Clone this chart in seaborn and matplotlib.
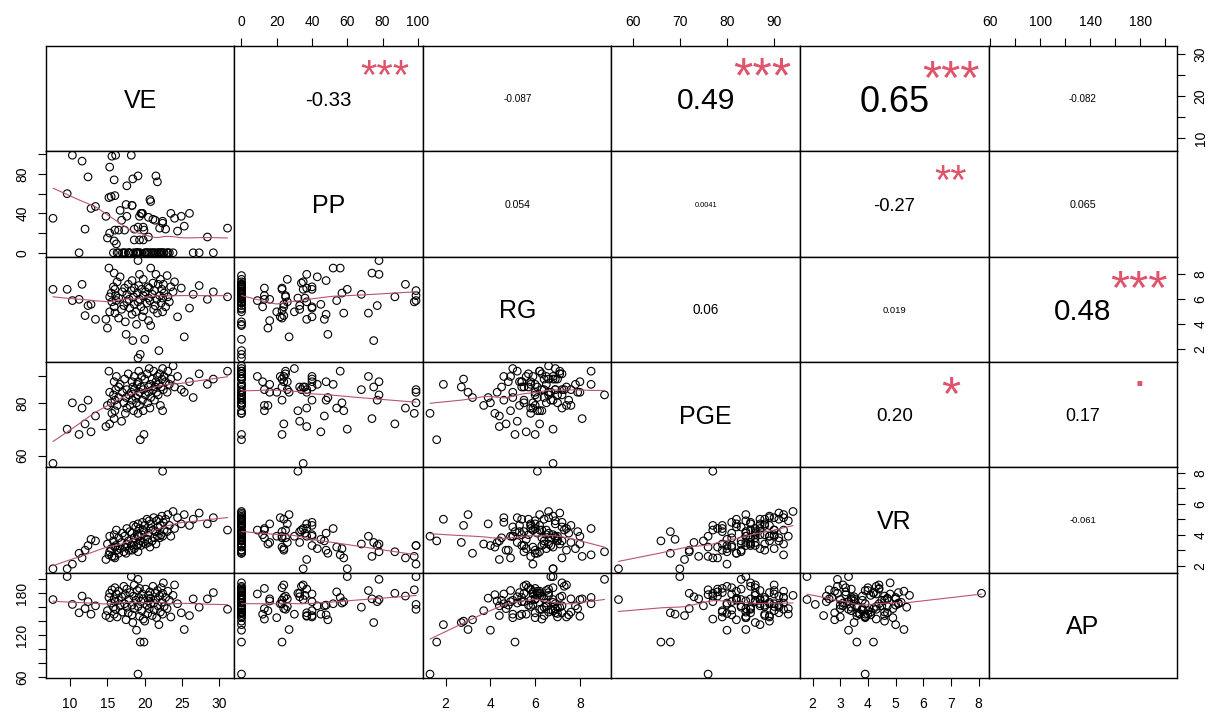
import numpy as np
import pandas as pd
import seaborn as sns
import matplotlib.pyplot as plt

ve = [7.7, 9.6, 10.3, 11.2, 11.6, 12.0, 12.4, 12.8, 13.4, 14.8,
      15.0, 15.2, 15.3, 15.3, 15.5, 15.6, 15.8, 15.9, 15.9, 16.0,
      16.0, 16.1, 16.2, 16.3, 16.5, 16.5, 16.7, 16.9, 17.0, 17.2,
      17.3, 17.4, 17.5, 17.6, 17.6, 17.8, 17.9, 18.0, 18.2, 18.3,
      18.3, 18.4, 18.5, 18.6, 18.6, 18.8, 18.9, 19.0, 19.1, 19.1,
      19.1, 19.2, 19.3, 19.3, 19.4, 19.5, 19.6, 19.7, 19.8, 19.8,
      19.9, 20.0, 20.1, 20.3, 20.4, 20.5, 20.5, 20.6, 20.7, 20.8,
      20.8, 21.0, 21.1, 21.2, 21.3, 21.4, 21.5, 21.6, 21.7, 21.8,
      21.9, 22.0, 22.1, 22.2, 22.3, 22.4, 22.4, 22.5, 22.6, 22.8,
      23.0, 23.1, 23.3, 23.5, 23.8, 24.0, 24.4, 24.9, 25.3, 26.0,
      26.5, 27.3, 28.4, 29.2, 31.1]
pp = [35, 60, 99, 0, 93, 24, 77, 45, 47, 37,
      15, 56, 87, 20, 57, 98, 0, 74, 12, 23,
      58, 99, 9, 0, 23, 0, 43, 33, 0, 0,
      23, 0, 49, 68, 37, 0, 0, 0, 99, 48,
      48, 75, 0, 24, 13, 0, 0, 0, 78, 0,
      26, 0, 37, 13, 0, 40, 40, 40, 26, 13,
      23, 0, 0, 0, 0, 36, 16, 0, 54, 52,
      0, 0, 34, 0, 0, 33, 78, 0, 72, 0,
      0, 25, 0, 0, 0, 32, 30, 0, 0, 24,
      0, 0, 0, 40, 0, 35, 22, 37, 27, 40,
      0, 0, 16, 0, 25]
rg = [6.8, 6.8, 5.9, 6.0, 7.2, 4.7, 5.5, 5.6, 4.4, 4.4,
      3.7, 8.5, 6.2, 5.0, 6.5, 5.8, 7.0, 8.1, 5.4, 6.8,
      4.9, 6.3, 5.9, 7.4, 4.5, 6.1, 7.8, 5.2, 6.6, 5.5,
      6.9, 4.2, 3.2, 6.4, 5.8, 7.2, 6.0, 5.3, 6.7, 4.8,
      7.5, 2.7, 6.2, 5.6, 6.9, 5.0, 4.0, 6.5, 9.1, 1.3,
      5.8, 7.1, 8.0, 6.0, 1.6, 5.4, 6.8, 4.6, 7.6, 6.3,
      5.1, 2.8, 6.6, 5.7, 7.0, 6.1, 4.3, 6.9, 5.9, 8.5,
      3.9, 6.4, 7.3, 5.2, 6.7, 5.5, 8.0, 6.0, 4.9, 7.2,
      1.9, 6.3, 7.6, 5.7, 6.8, 6.1, 5.0, 7.2, 6.5, 5.4,
      7.9, 6.2, 5.8, 7.0, 6.6, 7.4, 4.6, 6.9, 3.0, 5.3,
      6.4, 7.1, 6.0, 6.6, 6.2]
pge = [57, 70, 80, 68, 78, 72, 81, 69, 75, 71,
       79, 92, 72, 84, 80, 76, 83, 74, 88, 81,
       77, 85, 90, 79, 86, 82, 87, 73, 84, 80,
       89, 76, 82, 85, 78, 91, 83, 79, 84, 88,
       81, 86, 77, 90, 85, 82, 80, 87, 83, 76,
       88, 92, 84, 79, 66, 86, 90, 81, 85, 77,
       68, 89, 83, 91, 80, 86, 84, 93, 78, 87,
       82, 89, 85, 92, 81, 86, 88, 84, 90, 83,
       87, 91, 79, 86, 89, 77, 93, 85, 90, 88,
       84, 92, 87, 89, 94, 86, 90, 85, 84, 88,
       82, 91, 87, 89, 92]
vr = [1.8, 1.8, 2.1, 2.8, 2.5, 3.0, 3.3, 3.7, 3.6, 2.4,
      3.4, 2.7, 2.9, 3.9, 3.1, 2.6, 3.6, 2.6, 4.0, 3.2,
      2.5, 3.3, 4.3, 3.0, 3.8, 2.8, 3.1, 3.5, 4.1, 2.9,
      3.9, 3.2, 2.8, 3.4, 4.4, 3.6, 3.0, 4.2, 3.3, 3.0,
      4.1, 3.5, 4.6, 3.1, 3.8, 4.5, 3.3, 4.0, 2.9, 3.9,
      4.7, 3.4, 3.9, 4.4, 3.6, 3.3, 4.0, 4.8, 3.5, 4.3,
      4.2, 4.6, 3.4, 5.0, 3.7, 4.1, 3.5, 4.9, 3.2, 4.4,
      4.7, 3.6, 4.3, 5.1, 3.8, 4.2, 3.4, 4.9, 3.9, 4.5,
      5.0, 3.8, 4.6, 4.0, 5.2, 8.1, 3.9, 4.8, 4.3, 5.0,
      4.2, 5.3, 4.6, 3.9, 5.5, 4.4, 5.1, 4.7, 5.3, 4.6,
      5.0, 5.4, 4.7, 5.1, 4.3]
ap = [171, 204, 164, 152, 176, 158, 168, 150, 162, 148,
      155, 174, 180, 145, 166, 185, 160, 172, 150, 188,
      168, 157, 179, 146, 170, 183, 162, 175, 153, 190,
      165, 178, 142, 160, 186, 152, 171, 181, 204, 163,
      149, 138, 176, 192, 158, 170, 127, 184, 200, 64,
      161, 174, 147, 187, 110, 168, 155, 179, 172, 143,
      110, 140, 186, 163, 151, 177, 169, 158, 182, 165,
      173, 148, 190, 166, 156, 180, 171, 145, 184, 162,
      135, 176, 153, 188, 167, 180, 150, 195, 161, 174,
      158, 183, 170, 146, 177, 192, 165, 152, 128, 148,
      172, 160, 172, 181, 157]

names = ['VE', 'PP', 'RG', 'PGE', 'VR', 'AP']
df = pd.DataFrame({'VE': ve, 'PP': pp, 'RG': rg, 'PGE': pge, 'VR': vr, 'AP': ap})

# correlation labels and significance stars as printed in the upper panels
cor_txt = {(0, 1): '-0.33', (0, 2): '-0.087', (0, 3): '0.49', (0, 4): '0.65', (0, 5): '-0.082',
           (1, 2): '0.054', (1, 3): '0.0041', (1, 4): '-0.27', (1, 5): '0.065',
           (2, 3): '0.06', (2, 4): '0.019', (2, 5): '0.48',
           (3, 4): '0.20', (3, 5): '0.17',
           (4, 5): '-0.061'}
cor_star = {(0, 1): '***', (0, 3): '***', (0, 4): '***', (1, 4): '**',
            (2, 5): '***', (3, 4): '*', (3, 5): '.'}

ticks = {'VE': [10, 15, 20, 25, 30], 'PP': [0, 20, 40, 60, 80, 100], 'RG': [2, 4, 6, 8],
         'PGE': [60, 70, 80, 90], 'VR': [2, 3, 4, 5, 6, 7, 8],
         'AP': [60, 80, 100, 120, 140, 160, 180, 200]}
xlabs = {'VE': ['10', '15', '20', '25', '30'], 'PP': ['0', '20', '40', '60', '80', '100'],
         'RG': ['2', '4', '6', '8'], 'PGE': ['60', '70', '80', '90'],
         'VR': ['2', '3', '4', '5', '6', '7', '8'],
         'AP': ['60', '', '100', '', '140', '', '180', '']}
ylabs = {'VE': ['10', '', '20', '', '30'], 'PP': ['0', '', '40', '', '80', ''],
         'RG': ['2', '4', '6', '8'], 'PGE': ['60', '', '80', ''],
         'VR': ['2', '', '4', '', '6', '', '8'],
         'AP': ['60', '', '', '120', '', '', '180', '']}


def lowess(x, y, f=2/3, iters=3):
    idx = np.argsort(x)
    x = np.asarray(x, float)[idx]
    y = np.asarray(y, float)[idx]
    n = len(x)
    r = max(int(round(f * n)), 2)
    h = np.array([np.sort(np.abs(x - x[i]))[r - 1] for i in range(n)])
    rob = np.ones(n)
    fit = np.zeros(n)
    for it in range(iters + 1):
        for i in range(n):
            u = np.clip(np.abs(x - x[i]) / max(h[i], 1e-9), 0, 1)
            w = (1 - u ** 3) ** 3 * rob
            sw, swx = w.sum(), (w * x).sum()
            swxx, swy, swxy = (w * x * x).sum(), (w * y).sum(), (w * x * y).sum()
            det = sw * swxx - swx ** 2
            if abs(det) < 1e-12:
                fit[i] = swy / sw
            else:
                b = (sw * swxy - swx * swy) / det
                a = (swy - b * swx) / sw
                fit[i] = a + b * x[i]
        res = y - fit
        s = np.median(np.abs(res))
        if s == 0:
            break
        u = np.clip(res / (6 * s), -1, 1)
        rob = (1 - u ** 2) ** 2
    return x, fit


sns.set_style('white')
plt.rcParams['font.family'] = ['Liberation Sans', 'DejaVu Sans']
plt.rcParams.update({'axes.edgecolor': 'black', 'axes.linewidth': 1.0,
                     'text.color': 'black', 'xtick.color': 'black', 'ytick.color': 'black',
                     'xtick.labelcolor': 'black', 'ytick.labelcolor': 'black'})

lims = {}
for v in names:
    lo, hi = df[v].min(), df[v].max()
    pad = 0.04 * (hi - lo)
    lims[v] = (lo - pad, hi + pad)

fig, axes = plt.subplots(6, 6, figsize=(12.11, 7.15), dpi=100,
                         gridspec_kw=dict(wspace=0, hspace=0))
fig.subplots_adjust(left=46/1211, right=1177/1211, top=1-46/715, bottom=1-678/715)
rend = fig.canvas.get_renderer()
unit_w = 73.7  # px of correlation text per (|r| + 0.3)

for i, yv in enumerate(names):
    for j, xv in enumerate(names):
        ax = axes[i, j]
        ax.set_xlim(lims[xv])
        ax.set_ylim(lims[yv])
        ax.set_xticks([])
        ax.set_yticks([])
        for s in ax.spines.values():
            s.set_linewidth(1.0)
            s.set_color('black')
        if i > j:
            sns.scatterplot(x=df[xv], y=df[yv], ax=ax, marker='o', s=30,
                            facecolors='none', edgecolor='black', linewidth=0.8)
            lx, ly = lowess(df[xv].values, df[yv].values)
            sns.lineplot(x=lx, y=ly, ax=ax, color='#b85470', linewidth=0.8,
                         estimator=None, errorbar=None)
            ax.set_xlabel('')
            ax.set_ylabel('')
        elif i == j:
            ax.annotate(yv, xy=(0.5, 0.5), xycoords='axes fraction', xytext=(0, -0.36 * 18),
                        textcoords='offset points', ha='center', va='baseline', fontsize=18)
        else:
            txt = cor_txt[(i, j)]
            r = abs(float(txt))
            t = ax.text(0, 0, txt, fontsize=10)
            w10 = t.get_window_extent(renderer=rend).width
            t.remove()
            fs = 10 * unit_w * (r + 0.3) / w10
            fs_star = 10 * unit_w * 1.3 / w10
            ax.annotate(txt, xy=(0.5, 0.5), xycoords='axes fraction', xytext=(0, -0.36 * fs),
                        textcoords='offset points', ha='center', va='baseline', fontsize=fs)
            if (i, j) in cor_star:
                st = cor_star[(i, j)]
                off = -0.05 * fs_star if st == '.' else -0.52 * fs_star
                ax.annotate(st, xy=(0.8, 0.8), xycoords='axes fraction', xytext=(0, off),
                            textcoords='offset points', ha='center', va='baseline',
                            fontsize=fs_star, color='#DF536B', annotation_clip=False)

        # outer axes, alternating sides as in R pairs()
        if i == 5 and j % 2 == 0:
            ax.set_xticks(ticks[xv])
            ax.set_xticklabels(xlabs[xv])
            ax.tick_params(axis='x', bottom=True, direction='out', length=6, width=0.8,
                           pad=8, labelsize=10)
        if i == 0 and j % 2 == 1:
            ax.set_xticks(ticks[xv])
            ax.set_xticklabels(xlabs[xv])
            ax.tick_params(axis='x', top=True, bottom=False, labeltop=True, labelbottom=False,
                           direction='out', length=6, width=0.8, pad=6, labelsize=10)
        if j == 0 and i % 2 == 1:
            ax.set_yticks(ticks[yv])
            ax.set_yticklabels(ylabs[yv], rotation=90, va='center')
            ax.tick_params(axis='y', left=True, direction='out', length=6, width=0.8,
                           pad=6, labelsize=10)
        if j == 5 and i % 2 == 0:
            ax.set_yticks(ticks[yv])
            ax.set_yticklabels(ylabs[yv], rotation=90, va='center')
            ax.tick_params(axis='y', right=True, left=False, labelright=True, labelleft=False,
                           direction='out', length=6, width=0.8, pad=6, labelsize=10)

fig.savefig('out.png', dpi=100)
